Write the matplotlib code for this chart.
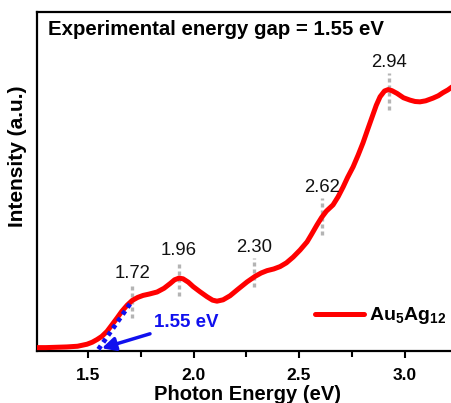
import matplotlib
matplotlib.use("Agg")
import matplotlib.pyplot as plt
from matplotlib.ticker import MultipleLocator

plt.rcParams['font.family'] = ['Liberation Sans', 'DejaVu Sans']
plt.rcParams['mathtext.fontset'] = 'custom'
plt.rcParams['mathtext.rm'] = 'Liberation Sans:bold'
plt.rcParams['mathtext.bf'] = 'Liberation Sans:bold'
plt.rcParams['mathtext.default'] = 'bf'

# Absorption spectrum (photon energy in eV, intensity in a.u.)
energy = [1.258, 1.300, 1.350, 1.400, 1.450, 1.495, 1.520, 1.543, 1.565, 1.590,
          1.613, 1.637, 1.660, 1.685, 1.709, 1.735, 1.761, 1.790, 1.827, 1.860,
          1.889, 1.910, 1.931, 1.950, 1.975, 1.998, 2.030, 2.064, 2.090, 2.111,
          2.140, 2.173, 2.210, 2.254, 2.291, 2.320, 2.348, 2.380, 2.410, 2.440,
          2.472, 2.505, 2.538, 2.560, 2.585, 2.607, 2.630, 2.661, 2.685, 2.709,
          2.730, 2.756, 2.780, 2.803, 2.826, 2.846, 2.866, 2.884, 2.905, 2.922,
          2.940, 2.964, 2.995, 3.026, 3.050, 3.073, 3.100, 3.135, 3.160, 3.182,
          3.205, 3.225]
intensity = [0.010, 0.010, 0.011, 0.012, 0.014, 0.020, 0.026, 0.034, 0.043, 0.058,
             0.077, 0.097, 0.117, 0.135, 0.149, 0.158, 0.164, 0.168, 0.174, 0.185,
             0.199, 0.210, 0.215, 0.213, 0.203, 0.190, 0.175, 0.160, 0.150, 0.147,
             0.151, 0.163, 0.182, 0.204, 0.220, 0.230, 0.237, 0.242, 0.249, 0.260,
             0.277, 0.298, 0.322, 0.345, 0.372, 0.394, 0.413, 0.431, 0.455, 0.484,
             0.512, 0.543, 0.578, 0.614, 0.655, 0.690, 0.725, 0.750, 0.767, 0.771,
             0.768, 0.760, 0.747, 0.740, 0.736, 0.735, 0.738, 0.746, 0.753, 0.762,
             0.770, 0.779]

# Peak markers
peak_labels = ["1.72", "1.96", "2.30", "2.62", "2.94"]
peak_x = [1.709, 1.931, 2.287, 2.607, 2.928]
peak_marker_top = [0.201, 0.263, 0.274, 0.451, 0.820]
peak_marker_bottom = [0.097, 0.162, 0.189, 0.342, 0.711]
peak_text_y = [0.230, 0.295, 0.304, 0.481, 0.850]

# Tangent (onset) line
tangent_x = [1.549, 1.707]
tangent_y = [0.005, 0.146]
gap_value = 1.55

fig = plt.figure(figsize=(4.52, 4.03), dpi=100)
ax = fig.add_axes([37/452, 1-351/403, 420/452, 339/403])

ax.plot(energy, intensity, color='#ff0000', lw=3.6, solid_capstyle='round',
        solid_joinstyle='round', label=r'Au$_{5}$Ag$_{12}$', zorder=3)

for lab, px, t, b, ty in zip(peak_labels, peak_x, peak_marker_top, peak_marker_bottom, peak_text_y):
    ax.plot([px, px], [b, t], color='#b4b4b4', lw=2.4, ls=(0, (1.2, 0.9)), zorder=2)
    ax.text(px, ty, lab, ha='center', va='center', fontsize=13.3, color='#111111')

ax.plot(tangent_x, tangent_y, color='#1010ee', lw=3.4, ls=(0, (0.9, 0.9)), zorder=4)
ax.annotate(f"{gap_value:.2f} eV", xy=(1.565, 0.008), xytext=(1.813, 0.083),
            ha='left', va='center', fontsize=13.5, fontweight='bold', color='#1010ee',
            arrowprops=dict(arrowstyle='-|>', color='#1010ee', lw=2.5,
                            mutation_scale=20, shrinkA=1, shrinkB=0))

ax.text(11/420, 0.947, f"Experimental energy gap = {gap_value:.2f} eV",
        transform=ax.transAxes, ha='left', va='center', fontsize=14.7, fontweight='bold')

ax.set_xlim(1.258, 1.258 + 420/211)
ax.set_ylim(0, 1)
ax.xaxis.set_major_locator(MultipleLocator(0.5))
ax.xaxis.set_minor_locator(MultipleLocator(0.25))
ax.set_yticks([])
ax.tick_params(axis='x', which='major', direction='out', length=5, width=1.5,
               labelsize=12.5, pad=7)
ax.tick_params(axis='x', which='minor', direction='out', length=4, width=1.5)
for lbl in ax.get_xticklabels():
    lbl.set_fontweight('bold')
for sp in ax.spines.values():
    sp.set_linewidth(1.6)

ax.set_xlabel("Photon Energy (eV)", fontsize=14.5, fontweight='bold', labelpad=2)
fig.text(18/452, 1-156/403, "Intensity (a.u.)", rotation=90, ha='center', va='center',
         fontsize=15, fontweight='bold')

leg = ax.legend(loc='center left', bbox_to_anchor=((315-37)/420, (351-316)/339),
                frameon=False, fontsize=14, handlelength=2.5, handletextpad=0.3,
                borderpad=0, borderaxespad=0)
for t in leg.get_texts():
    t.set_fontweight('bold')

fig.savefig("out.png", dpi=100)
